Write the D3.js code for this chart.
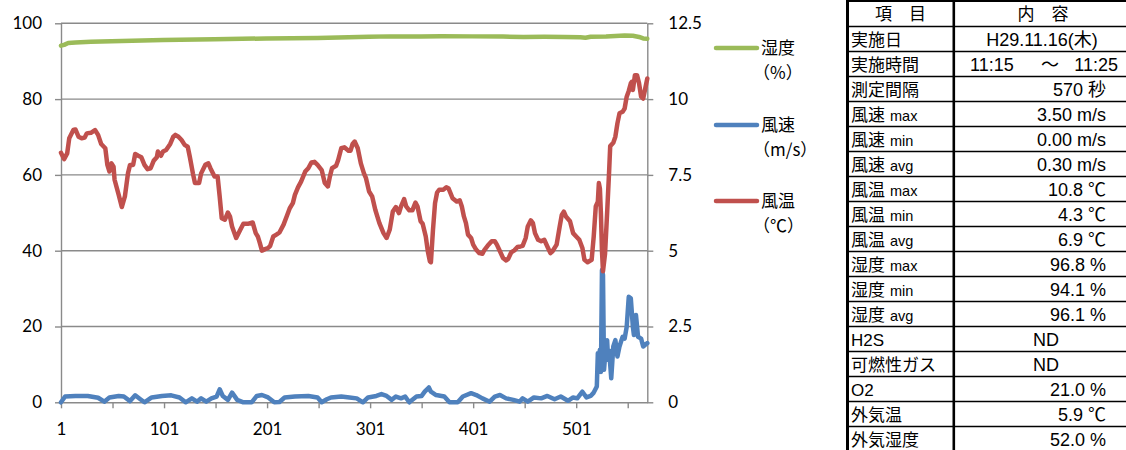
<!DOCTYPE html>
<html>
<head>
<meta charset="utf-8">
<script src="https://cdn.jsdelivr.net/npm/d3@7"></script>
<style>
  body { margin: 0; background: #fff; }
  svg { display: block; }
</style>
</head>
<body>
<svg id="chart" width="1126" height="450"></svg>
<script>
// ---- measured series: [sample number, value] ----
// humidity (%) on the left axis
const humidity = [
  [1,94.1],[4,94.3],[8,94.8],[15,94.95],[30,95.1],[60,95.35],[100,95.6],[150,95.8],
  [200,96.0],[250,96.15],[280,96.3],[300,96.45],[320,96.55],[350,96.5],[370,96.6],
  [400,96.55],[430,96.5],[450,96.4],[470,96.45],[490,96.4],[505,96.3],[510,96.2],
  [515,96.45],[530,96.5],[548,96.75],[556,96.7],[562,96.4],[566,96.0],[570,95.9]
];
// wind speed (m/s) on the right axis
const windSpeed = [
  [1,0.0],[5,0.19],[15,0.21],[27,0.21],[37,0.15],[43,0.02],[48,0.16],[57,0.21],[62,0.19],
  [68,0.04],[73,0.23],[78,0.10],[82,0.0],[89,0.16],[99,0.21],[108,0.23],[116,0.16],[122,0.0],
  [128,0.13],[133,0.02],[137,0.13],[142,0.02],[147,0.13],[152,0.19],[155,0.43],[158,0.21],
  [163,0.08],[167,0.32],[172,0.08],[178,0.0],[186,0.0],[191,0.21],[196,0.24],[202,0.16],
  [208,0.0],[213,0.01],[218,0.16],[228,0.19],[241,0.21],[250,0.16],[254,0.0],[259,0.10],
  [263,0.16],[273,0.19],[281,0.16],[288,0.13],[294,0.0],[299,0.16],[307,0.21],[312,0.27],
  [317,0.21],[322,0.08],[326,0.19],[331,0.13],[335,0.19],[339,0.0],[346,0.19],[351,0.21],
  [354,0.35],[358,0.49],[360,0.35],[365,0.24],[373,0.19],[378,0.0],[386,0.0],[391,0.19],
  [399,0.30],[404,0.24],[410,0.13],[417,0.02],[422,0.19],[427,0.24],[433,0.13],[440,0.08],
  [446,0.02],[449,0.13],[454,0.02],[460,0.16],[467,0.13],[473,0.21],[480,0.10],[486,0.19],
  [493,0.05],[498,0.16],[502,0.13],[507,0.35],[511,0.16],[515,0.21],[518,0.32],[521,0.52],
  [522,1.62],[523,1.50],[524,1.73],[525,1.0],[526,4.36],[527,4.2],[528,1.07],[529,1.5],
  [531,2.05],[532,1.4],[533,1.7],[535,0.79],[537,1.84],[539,2.05],[541,1.51],[543,1.84],
  [546,2.16],[548,2.10],[550,2.49],[552,3.48],[554,3.43],[556,2.49],[557,2.22],[559,2.88],
  [561,2.16],[564,2.10],[566,1.84],[568,1.90],[570,1.95]
];
// air temperature (°C) on the right axis
const windTemp = [
  [1,8.23],[4,8.02],[7,8.21],[9,8.71],[13,8.98],[15,9.00],[18,8.76],[21,8.71],[24,8.73],
  [26,8.87],[30,8.89],[34,8.98],[37,8.82],[40,8.52],[44,8.38],[46,7.83],[48,7.61],[50,7.88],
  [52,7.77],[53,7.34],[57,6.84],[60,6.44],[63,6.79],[66,7.55],[68,7.83],[71,7.83],[73,8.19],
  [76,8.13],[79,8.08],[82,7.83],[85,7.69],[88,7.72],[91,7.97],[94,8.08],[95,8.27],[98,8.13],
  [100,8.27],[103,8.32],[107,8.52],[110,8.76],[112,8.82],[115,8.76],[118,8.65],[121,8.49],
  [124,8.43],[126,8.10],[129,7.55],[131,7.23],[135,7.23],[137,7.55],[141,7.83],[144,7.88],
  [146,7.72],[150,7.45],[153,7.45],[155,6.79],[157,6.07],[160,6.02],[163,6.26],[165,6.13],
  [167,5.80],[171,5.42],[175,5.69],[178,5.89],[183,5.89],[187,5.93],[190,5.58],[192,5.47],
  [194,5.25],[196,5.00],[199,5.05],[202,5.09],[204,5.16],[207,5.47],[210,5.53],[213,5.60],
  [217,5.86],[220,6.13],[223,6.40],[226,6.57],[228,6.84],[231,7.09],[234,7.28],[238,7.61],
  [241,7.72],[244,7.91],[247,7.93],[250,7.83],[254,7.66],[257,7.23],[260,7.12],[262,7.45],
  [264,7.72],[268,7.80],[270,7.99],[273,8.38],[276,8.41],[280,8.30],[282,8.30],[284,8.52],
  [286,8.60],[289,8.38],[292,7.88],[295,7.55],[297,7.39],[300,6.95],[303,6.79],[306,6.35],
  [310,5.91],[314,5.58],[317,5.42],[320,5.69],[323,6.29],[326,6.44],[329,6.24],[331,6.46],
  [334,6.70],[336,6.46],[339,6.33],[342,6.33],[345,6.59],[347,6.46],[350,5.97],[352,5.89],
  [355,5.47],[357,4.98],[359,4.65],[360,4.62],[362,5.69],[364,6.57],[366,6.92],[368,7.01],
  [372,7.01],[375,7.09],[377,7.06],[379,6.90],[381,6.73],[385,6.62],[388,6.66],[390,6.46],
  [392,6.13],[394,5.91],[396,5.53],[399,5.42],[401,5.20],[404,5.03],[407,4.92],[410,4.90],
  [412,5.03],[415,5.16],[419,5.31],[422,5.31],[424,5.20],[427,4.98],[430,4.76],[433,4.68],
  [435,4.73],[438,4.95],[441,5.01],[444,5.12],[447,5.14],[449,5.16],[452,5.42],[454,5.80],
  [457,6.00],[459,5.91],[461,5.58],[464,5.36],[467,5.31],[470,5.36],[473,5.14],[476,4.92],
  [478,4.98],[482,5.20],[485,5.80],[487,6.18],[489,6.29],[491,6.13],[495,5.97],[498,5.58],
  [501,5.47],[504,5.36],[507,5.09],[509,4.70],[512,4.62],[516,4.70],[518,5.47],[520,6.46],
  [522,6.62],[523,7.23],[524,7.05],[525,6.2],[526,5.0],[527,4.32],[529,4.9],[531,6.24],
  [533,7.66],[534,8.45],[537,8.56],[539,8.76],[541,9.20],[543,9.53],[546,9.58],[548,9.69],
  [550,10.08],[552,10.27],[554,10.52],[555,10.57],[556,10.30],[558,10.79],[560,10.79],
  [562,10.52],[564,10.08],[566,10.02],[568,10.35],[570,10.68]
];

// ---- axes ----
const sampleCount = 570;
const xTickValues = [1, 51, 101, 151, 201, 251, 301, 351, 401, 451, 501, 551];
const leftTicks = [0, 20, 40, 60, 80, 100];
const rightTicks = [0, 2.5, 5, 7.5, 10, 12.5];

// ---- legend ----
const legendNames = ["湿度", "風速", "風温"];
const legendUnits = ["（%）", "（m/s）", "（℃）"];

// ---- summary table ----
const tableHeader = ["項　目", "内　容"];
const tableItems = ["実施日", "実施時間", "測定間隔", "風速", "風速", "風速", "風温", "風温", "風温",
                    "湿度", "湿度", "湿度", "H2S", "可燃性ガス", "O2", "外気温", "外気湿度"];
const tableItemStats = ["", "", "", "max", "min", "avg", "max", "min", "avg",
                        "max", "min", "avg", "", "", "", "", ""];
const tableValues = ["H29.11.16(木)", "11:15　～　11:25", "570 秒", "3.50 m/s", "0.00 m/s", "0.30 m/s",
                     "10.8 ℃", "4.3 ℃", "6.9 ℃", "96.8 %", "94.1 %", "96.1 %",
                     "ND", "ND", "21.0 %", "5.9 ℃", "52.0 %"];

// ---- drawing ----
const svg = d3.select("#chart");
const plot = { left: 61, right: 647.3, top: 23.3, bottom: 402.3 };
const gridColor = "#8a8a8a";
const colors = { humidity: "#9BBB59", speed: "#4F81BD", temp: "#C0504D" };
const axisFont = "Lato, 'Open Sans', sans-serif";
const jpFont = "'Noto Sans CJK JP', sans-serif";
const tableFont = "'Liberation Sans', 'Noto Sans CJK JP', sans-serif";

const x = d3.scaleLinear().domain([1, sampleCount]).range([plot.left, plot.right]);
const yLeft = d3.scaleLinear().domain([0, 100]).range([plot.bottom, plot.top]);
const yRight = d3.scaleLinear().domain([0, 12.5]).range([plot.bottom, plot.top]);

// horizontal gridlines
svg.append("g").selectAll("line").data(leftTicks.filter(d => d > 0)).join("line")
  .attr("x1", plot.left).attr("x2", plot.right)
  .attr("y1", d => yLeft(d)).attr("y2", d => yLeft(d))
  .attr("stroke", gridColor).attr("stroke-width", 1.4);

function styleAxis(g) {
  g.select(".domain").attr("stroke", gridColor).attr("stroke-width", 1.4);
  g.selectAll(".tick line").attr("stroke", gridColor).attr("stroke-width", 1.4);
  g.selectAll(".tick text").attr("fill", "#000").style("font-family", axisFont).style("font-size", "17px");
}

svg.append("g").attr("transform", `translate(${plot.left},0)`)
  .call(d3.axisLeft(yLeft).tickValues(leftTicks).tickSize(6).tickSizeOuter(0).tickPadding(13)
    .tickFormat(d => String(d)))
  .call(styleAxis);

svg.append("g").attr("transform", `translate(${plot.right},0)`)
  .call(d3.axisRight(yRight).tickValues(rightTicks).tickSize(6).tickSizeOuter(0).tickPadding(15)
    .tickFormat(d => String(d)))
  .call(styleAxis);

svg.append("g").attr("transform", `translate(0,${plot.bottom})`)
  .call(d3.axisBottom(x).tickValues(xTickValues).tickSize(6).tickSizeOuter(0).tickPadding(15)
    .tickFormat(d => (d - 1) % 100 === 0 ? String(d) : ""))
  .call(styleAxis);

// series lines: humidity, wind speed, temperature
const lineLeft = d3.line().x(d => x(d[0])).y(d => yLeft(d[1]));
const lineRight = d3.line().x(d => x(d[0])).y(d => yRight(d[1]));

const seriesLayer = svg.append("g").attr("fill", "none")
  .attr("stroke-width", 4.5).attr("stroke-linejoin", "round").attr("stroke-linecap", "round");
seriesLayer.append("path").attr("d", lineLeft(humidity)).attr("stroke", colors.humidity);
seriesLayer.append("path").attr("d", lineRight(windSpeed)).attr("stroke", colors.speed);
seriesLayer.append("path").attr("d", lineRight(windTemp)).attr("stroke", colors.temp);

// legend
const legendColors = [colors.humidity, colors.speed, colors.temp];
const legendY = [48, 125, 201];
const legend = svg.append("g").style("font-family", jpFont).style("font-size", "17px");
legendNames.forEach((name, i) => {
  legend.append("line")
    .attr("x1", 716).attr("x2", 757).attr("y1", legendY[i]).attr("y2", legendY[i])
    .attr("stroke", legendColors[i]).attr("stroke-width", 4.5).attr("stroke-linecap", "round");
  legend.append("text").attr("x", 761).attr("y", legendY[i]).attr("dy", "0.36em")
    .attr("fill", "#000").text(name);
  legend.append("text").attr("x", 753).attr("y", legendY[i] + 24.5).attr("dy", "0.36em")
    .attr("fill", "#000").text(legendUnits[i]);
});

// summary table
const table = svg.append("g").style("font-family", tableFont).attr("fill", "#000");
const rowTop = 26.5, rowH = 25;
const colDivX = 953.8, tableLeft = 847.5, tableRight = 1132;

table.append("line").attr("x1", tableLeft - 1.5).attr("x2", tableRight).attr("y1", 1).attr("y2", 1)
  .attr("stroke", "#000").attr("stroke-width", 2);
for (let i = 0; i <= tableItems.length; i++) {
  const y = rowTop + i * rowH;
  table.append("line").attr("x1", tableLeft).attr("x2", tableRight).attr("y1", y).attr("y2", y)
    .attr("stroke", "#000").attr("stroke-width", 1.6);
}
table.append("line").attr("x1", tableLeft).attr("x2", tableLeft).attr("y1", 0).attr("y2", 450)
  .attr("stroke", "#000").attr("stroke-width", 3);
table.append("line").attr("x1", colDivX).attr("x2", colDivX).attr("y1", 0).attr("y2", 450)
  .attr("stroke", "#000").attr("stroke-width", 2.6);

table.append("text").attr("x", 900.5).attr("y", 13.8).attr("dy", "0.36em")
  .attr("text-anchor", "middle").style("font-size", "17px").text(tableHeader[0]);
table.append("text").attr("x", 1043).attr("y", 13.8).attr("dy", "0.36em")
  .attr("text-anchor", "middle").style("font-size", "17px").text(tableHeader[1]);

const valueSize = "18px";
tableItems.forEach((item, i) => {
  const cy = rowTop + i * rowH + rowH / 2 + 0.5;
  const t = table.append("text").attr("x", 851).attr("y", cy).attr("dy", "0.36em")
    .style("font-size", "17px");
  t.append("tspan").text(item);
  if (tableItemStats[i]) {
    t.append("tspan").attr("dx", 5).style("font-size", "14.5px").text(tableItemStats[i]);
  }

  const val = tableValues[i];
  if (i === 0) {
    table.append("text").attr("x", 1042).attr("y", cy).attr("dy", "0.36em")
      .attr("text-anchor", "middle").style("font-size", valueSize).text(val);
  } else if (val.includes("～")) {
    const parts = val.split("　～　");
    table.append("text").attr("x", 970).attr("y", cy).attr("dy", "0.36em")
      .style("font-size", valueSize).text(parts[0]);
    table.append("text").attr("x", 1050).attr("y", cy).attr("dy", "0.36em")
      .attr("text-anchor", "middle").style("font-size", valueSize).text("～");
    table.append("text").attr("x", 1118).attr("y", cy).attr("dy", "0.36em")
      .attr("text-anchor", "end").style("font-size", valueSize).text(parts[1]);
  } else if (val === "ND") {
    table.append("text").attr("x", 1033).attr("y", cy).attr("dy", "0.36em")
      .style("font-size", valueSize).text(val);
  } else {
    table.append("text").attr("x", 1106).attr("y", cy).attr("dy", "0.36em")
      .attr("text-anchor", "end").style("font-size", valueSize).text(val);
  }
});
</script>
</body>
</html>
